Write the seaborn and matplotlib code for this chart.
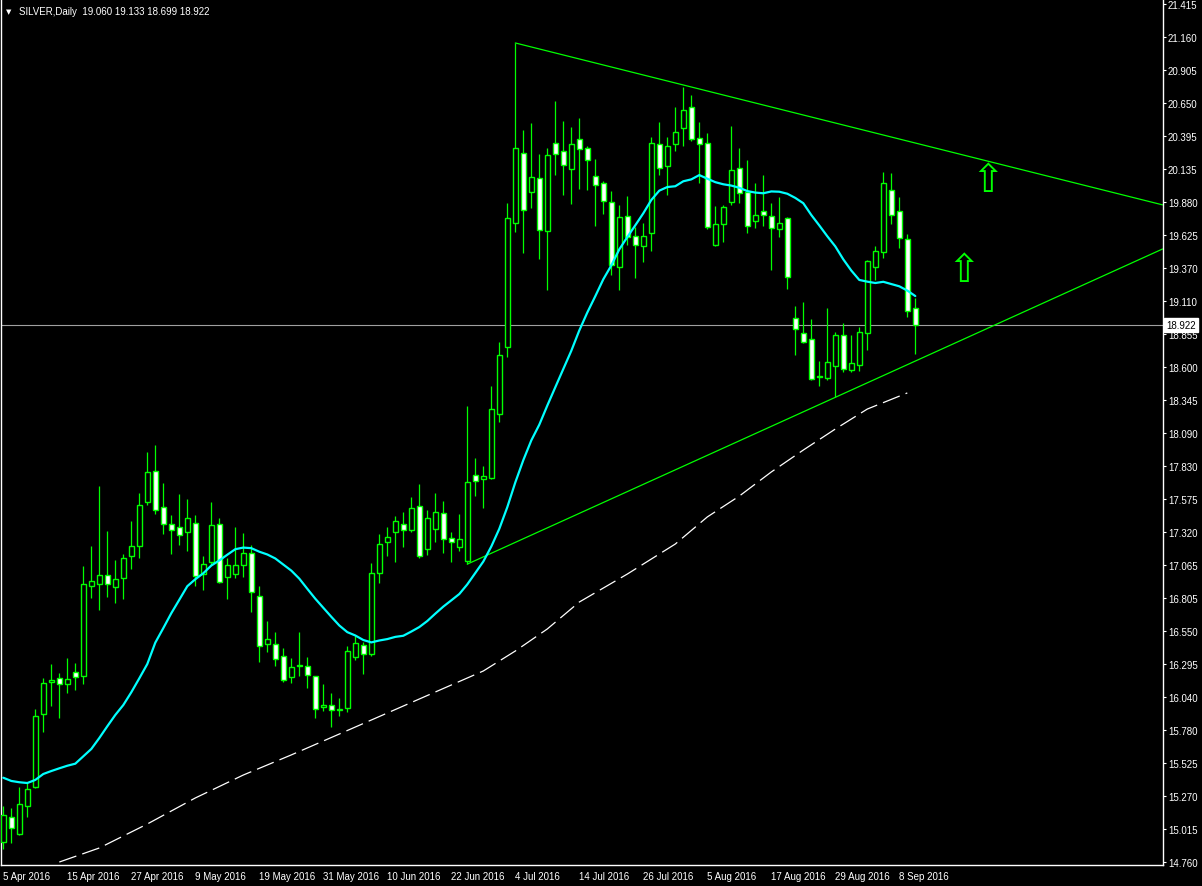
import numpy as np
import pandas as pd
import matplotlib
matplotlib.use('Agg')
import matplotlib.pyplot as plt
import matplotlib.transforms as mtransforms
import seaborn as sns

# Daily SILVER candles (one value per bar, 5 Apr .. 12 Sep 2016)
opens = [14.915, 15.11, 14.98, 15.197, 15.339, 15.905, 16.155, 16.185, 16.138, 16.237,
         16.20, 16.903, 16.914, 16.984, 16.895, 16.96, 17.131, 17.208, 17.55, 17.79,
         17.51, 17.38, 17.356, 17.317, 17.387, 16.99, 17.084, 17.38, 16.968, 16.99,
         17.06, 17.16, 16.825, 16.448, 16.448, 16.355, 16.192, 16.285, 16.277, 16.20,
         15.96, 15.975, 15.94, 15.956, 16.347, 16.44, 16.37, 16.999, 17.24, 17.317,
         17.38, 17.337, 17.52, 17.185, 17.34, 17.465, 17.27, 17.20, 17.097, 17.76,
         17.728, 17.736, 18.232, 18.752, 19.72, 20.257, 19.959, 20.063, 19.652, 20.334,
         20.272, 20.133, 20.365, 20.296, 20.078, 20.024, 19.877, 19.373, 19.768, 19.613,
         19.536, 19.636, 20.327, 20.156, 20.327, 20.451, 20.614, 20.373, 20.334, 19.543,
         19.706, 19.877, 20.14, 19.954, 19.73, 19.807, 19.768, 19.667, 19.753, 18.977,
         18.861, 18.814, 18.527, 18.511, 18.605, 18.845, 18.573, 18.612, 18.861, 19.373,
         19.489, 19.97, 19.807, 19.59, 19.060]
highs = [15.19, 15.18, 15.34, 15.37, 15.945, 16.19, 16.295, 16.225, 16.345, 16.30,
         17.055, 17.21, 17.676, 17.327, 17.10, 17.148, 17.405, 17.62, 17.94, 17.994,
         17.70, 17.45, 17.614, 17.575, 17.45, 17.133, 17.55, 17.43, 17.12, 17.36,
         17.31, 17.22, 16.90, 16.626, 16.54, 16.417, 16.34, 16.54, 16.347, 16.205,
         16.138, 16.068, 16.03, 16.433, 16.515, 16.465, 17.08, 17.30, 17.36, 17.44,
         17.473, 17.588, 17.69, 17.488, 17.62, 17.558, 17.317, 17.457, 18.297, 17.893,
         17.83, 18.452, 18.79, 19.87, 21.113, 20.438, 20.492, 20.25, 20.296, 20.66,
         20.507, 20.461, 20.53, 20.31, 20.21, 20.04, 19.962, 19.854, 19.923, 19.683,
         19.72, 20.38, 20.497, 20.38, 20.62, 20.77, 20.709, 20.497, 20.412, 19.846,
         19.854, 20.466, 20.296, 20.203, 20.024, 20.086, 19.869, 19.915, 19.76, 19.07,
         19.101, 18.969, 18.643, 19.054, 18.868, 18.938, 18.845, 18.907, 19.427, 19.536,
         20.109, 20.102, 19.915, 19.628, 19.133]
lows = [14.86, 14.91, 14.97, 15.11, 15.33, 15.765, 15.97, 15.88, 16.068, 16.09,
        16.14, 16.81, 16.714, 16.815, 16.77, 16.80, 17.032, 17.12, 17.53, 17.46,
        17.30, 17.148, 17.218, 17.17, 16.90, 16.87, 17.06, 16.92, 16.80, 16.96,
        16.97, 16.70, 16.308, 16.39, 16.28, 16.158, 16.145, 16.205, 16.107, 15.88,
        15.93, 15.804, 15.895, 15.925, 16.33, 16.22, 16.36, 16.92, 17.13, 17.085,
        17.20, 17.32, 17.12, 17.143, 17.244, 17.16, 17.09, 17.174, 17.07, 17.60,
        17.508, 17.73, 18.17, 18.68, 19.65, 19.484, 19.835, 19.44, 19.199, 20.086,
        19.935, 19.866, 19.982, 19.975, 19.69, 19.784, 19.31, 19.194, 19.543, 19.287,
        19.41, 19.497, 20.086, 19.935, 20.272, 20.31, 20.35, 20.03, 19.667, 19.535,
        19.567, 19.854, 19.869, 19.636, 19.675, 19.69, 19.35, 19.605, 19.202, 18.69,
        18.785, 18.50, 18.454, 18.496, 18.364, 18.558, 18.558, 18.566, 18.729, 19.272,
        19.442, 19.706, 19.525, 18.99, 18.699]
closes = [15.124, 15.02, 15.21, 15.324, 15.89, 16.146, 16.17, 16.14, 16.177, 16.198,
          16.913, 16.937, 16.984, 16.914, 16.952, 17.115, 17.208, 17.526, 17.782, 17.487,
          17.38, 17.333, 17.294, 17.426, 16.976, 17.07, 17.37, 16.93, 17.061, 17.06,
          17.16, 16.85, 16.432, 16.487, 16.332, 16.169, 16.27, 16.28, 16.207, 15.947,
          15.975, 15.936, 15.945, 16.393, 16.456, 16.37, 16.998, 17.224, 17.28, 17.402,
          17.333, 17.503, 17.13, 17.425, 17.472, 17.264, 17.24, 17.262, 17.705, 17.713,
          17.75, 18.27, 18.69, 19.752, 20.296, 19.82, 20.07, 19.66, 20.241, 20.249,
          20.164, 20.327, 20.288, 20.203, 20.009, 19.885, 19.388, 19.76, 19.605, 19.543,
          19.613, 20.334, 20.14, 20.311, 20.42, 20.59, 20.365, 20.327, 19.683, 19.706,
          19.838, 20.125, 19.947, 19.691, 19.776, 19.776, 19.675, 19.714, 19.295, 18.892,
          18.791, 18.504, 18.52, 18.636, 18.845, 18.581, 18.628, 18.868, 19.419, 19.497,
          20.024, 19.776, 19.598, 19.031, 18.922]

# MA(20) for the first 19 bars (its history lies left of the chart)
ma20_head = [15.413, 15.388, 15.378, 15.372, 15.396, 15.442, 15.465, 15.486, 15.506, 15.522,
             15.579, 15.636, 15.721, 15.812, 15.90, 15.977, 16.076, 16.184, 16.295]

# white dashed MA(100), read at some bars
ma100_bars = [7, 12, 18, 24, 30, 36, 42, 48, 54, 60, 64, 68, 72, 78, 84, 88, 92, 96, 100, 104, 108, 113]
ma100_vals = [14.759, 14.868, 15.054, 15.256, 15.434, 15.59, 15.752, 15.915, 16.078, 16.241, 16.396,
              16.567, 16.776, 16.993, 17.226, 17.436, 17.598, 17.785, 17.955, 18.118, 18.273, 18.398]

# trend lines: (bar, price) anchors
upper_line = [(64, 21.113), (85, 20.787)]
lower_line = [(58, 17.07), (104, 18.364)]

# arrow objects (bar, price)
arrows = [(123, 20.05), (120, 19.35)]

date_labels = ['5 Apr 2016', '15 Apr 2016', '27 Apr 2016', '9 May 2016', '19 May 2016',
               '31 May 2016', '10 Jun 2016', '22 Jun 2016', '4 Jul 2016', '14 Jul 2016',
               '26 Jul 2016', '5 Aug 2016', '17 Aug 2016', '29 Aug 2016', '8 Sep 2016']
price_ticks = [21.415, 21.160, 20.905, 20.650, 20.395, 20.135, 19.880, 19.625, 19.370,
               19.110, 18.855, 18.600, 18.345, 18.090, 17.830, 17.575, 17.320, 17.065,
               16.805, 16.550, 16.295, 16.040, 15.780, 15.525, 15.270, 15.015, 14.760]

LIME = '#00FF00'
CYAN = '#00FFFF'
FS = 7

df = pd.DataFrame({'open': opens, 'high': highs, 'low': lows, 'close': closes})
df['bar'] = np.arange(len(df))
ma20 = df['close'].rolling(20).mean()
ma20.iloc[:19] = ma20_head
df['ma20'] = ma20
ma100 = pd.DataFrame({'bar': ma100_bars, 'ma': ma100_vals})

sns.set_style('dark', {'axes.facecolor': 'black', 'figure.facecolor': 'black',
                       'axes.edgecolor': 'white', 'axes.grid': False})
plt.rcParams['font.family'] = ['Liberation Sans', 'DejaVu Sans']
plt.rcParams['lines.scale_dashes'] = False

fig = plt.figure(figsize=(12.02, 8.87), dpi=100)
ax = fig.add_axes([0.5 / 1202, 21 / 887, 1162 / 1202, 866 / 887])
ax.set_facecolor('black')

# candles
up = df['close'] >= df['open']
ax.vlines(df['bar'], df['low'], df['high'], color=LIME, lw=0.9, zorder=3)
ax.bar(df['bar'], (df['close'] - df['open']).abs(), bottom=df[['open', 'close']].min(axis=1),
       width=0.58, color=np.where(up, 'black', 'white'), edgecolor=LIME, linewidth=1.0, zorder=4)

# moving averages
sns.lineplot(data=df, x='bar', y='ma20', ax=ax, color=CYAN, linewidth=1.6, zorder=5)
sns.lineplot(data=ma100, x='bar', y='ma', ax=ax, color='white', linewidth=0.9,
             linestyle=(0, (13, 4.5)), zorder=5)

# bid line
last = closes[-1]
ax.axhline(last, color='#a0a0a0', lw=0.8, zorder=2)

xmax = 144.9
for (b1, p1), (b2, p2) in [upper_line, lower_line]:
    slope = (p2 - p1) / (b2 - b1)
    ax.plot([b1, xmax], [p1, p1 + slope * (xmax - b1)], color=LIME, lw=0.9, zorder=2)

for b, p in arrows:
    ax.text(b, p, '\u21e7', color=LIME, fontsize=28, ha='center', va='center', zorder=6,
            family='DejaVu Sans')

ax.set_xlim(-0.35, xmax)
ax.set_ylim(14.736, 21.454)

ax.set_xticks(np.arange(0, 8 * len(date_labels), 8))
ax.set_xticklabels(date_labels, ha='left')
ax.yaxis.tick_right()
ax.set_yticks(price_ticks)
ax.set_yticklabels(['%.3f' % v for v in price_ticks])
ax.tick_params(axis='both', colors='white', labelcolor='white', labelsize=FS,
               length=2.5, width=0.8, direction='out', pad=1.5)
ax.set_xlabel('')
ax.set_ylabel('')
for side in ['left', 'bottom', 'right']:
    ax.spines[side].set_color('white')
    ax.spines[side].set_linewidth(1)
ax.spines['top'].set_visible(False)

# current price label on the axis
trans = mtransforms.blended_transform_factory(ax.transAxes, ax.transData)
ax.text(1.003, last, '%.3f' % last, transform=trans, color='black', fontsize=FS,
        ha='left', va='center', zorder=10, clip_on=False,
        bbox=dict(boxstyle='square,pad=0.2', fc='white', ec='white'))

# chart header
fig.text(6 / 1202, 1 - 12 / 887, '\u25bc', color='white', fontsize=5, va='center', ha='left',
         family='DejaVu Sans')
fig.text(19 / 1202, 1 - 12 / 887, 'SILVER,Daily  19.060 19.133 18.699 18.922',
         color='white', fontsize=FS, va='center', ha='left')

fig.savefig('out.png', dpi=100, facecolor='black')
